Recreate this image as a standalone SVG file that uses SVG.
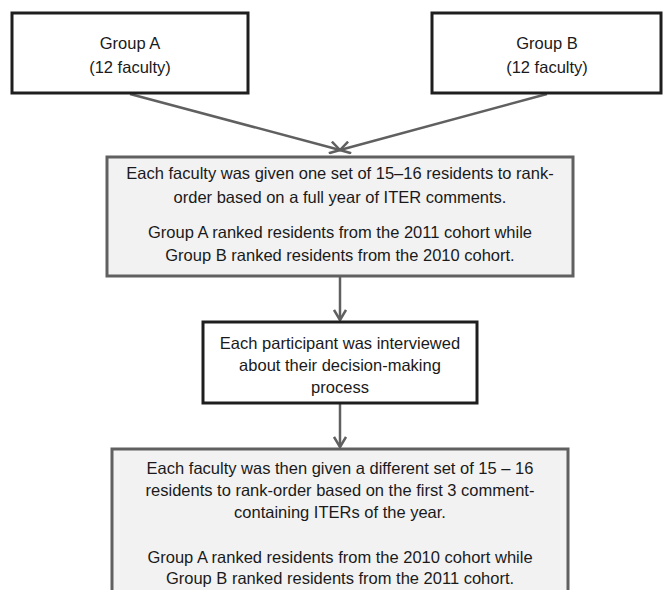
<svg xmlns="http://www.w3.org/2000/svg" width="663" height="590" viewBox="0 0 663 590">
<style>
.top{fill:#ffffff;stroke:#1e1e1e;stroke-width:3}
.gray{fill:#f2f2f3;stroke:#606060;stroke-width:3}
.t{font-family:"Liberation Sans",Arial,sans-serif;font-size:16.5px;fill:#1a1a1a;text-anchor:middle}
.c{stroke:#606060;stroke-width:2.5;fill:none}
</style>
<defs>
<marker id="arr" markerWidth="14" markerHeight="14" refX="11" refY="7" orient="auto" markerUnits="userSpaceOnUse">
<polyline points="1,1 11,7 1,13" fill="none" stroke="#606060" stroke-width="2.5"/>
</marker>
</defs>
<g id="connectors">
<line class="c" x1="130" y1="94" x2="340" y2="150" marker-end="url(#arr)"/>
<line class="c" x1="547" y1="94" x2="340" y2="150" marker-end="url(#arr)"/>
<line class="c" x1="340" y1="276" x2="340" y2="320" marker-end="url(#arr)"/>
<line class="c" x1="340" y1="403" x2="340" y2="447" marker-end="url(#arr)"/>
</g>
<g id="groupA">
<rect class="top" x="12" y="13" width="236" height="80"/>
<text class="t" x="130" y="49">Group A</text>
<text class="t" x="130" y="73">(12 faculty)</text>
</g>
<g id="groupB">
<rect class="top" x="432" y="13" width="229" height="80"/>
<text class="t" x="547" y="49">Group B</text>
<text class="t" x="547" y="73">(12 faculty)</text>
</g>
<g id="step1">
<rect class="gray" x="107" y="157" width="466" height="119"/>
<text class="t" x="340" y="179">Each faculty was given one set of 15–16 residents to rank-</text>
<text class="t" x="340" y="203">order based on a full year of ITER comments.</text>
<text class="t" x="340" y="238">Group A ranked residents from the 2011 cohort while</text>
<text class="t" x="340" y="261">Group B ranked residents from the 2010 cohort.</text>
</g>
<g id="step2">
<rect class="top" x="203" y="322" width="274" height="81"/>
<text class="t" x="340" y="349">Each participant was interviewed</text>
<text class="t" x="340" y="371">about their decision-making</text>
<text class="t" x="340" y="393">process</text>
</g>
<g id="step3">
<rect class="gray" x="112" y="449" width="456" height="150"/>
<text class="t" x="340" y="474">Each faculty was then given a different set of 15 – 16</text>
<text class="t" x="340" y="496">residents to rank-order based on the first 3 comment-</text>
<text class="t" x="340" y="518">containing ITERs of the year.</text>
<text class="t" x="340" y="563">Group A ranked residents from the 2010 cohort while</text>
<text class="t" x="340" y="584">Group B ranked residents from the 2011 cohort.</text>
</g>
</svg>
